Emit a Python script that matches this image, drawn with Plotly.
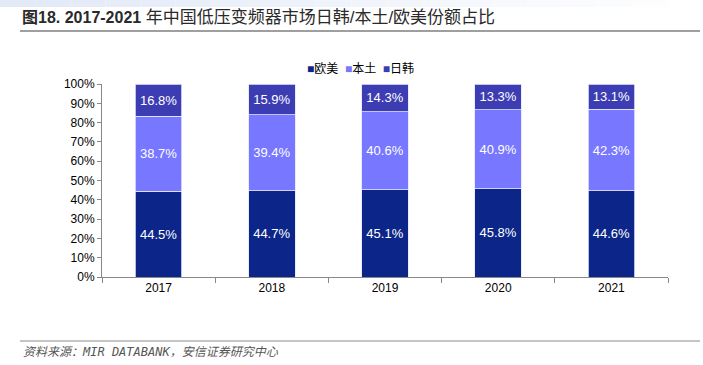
import plotly.graph_objects as go

years = ["2017", "2018", "2019", "2020", "2021"]
oumei = [44.5, 44.7, 45.1, 45.8, 44.6]
bentu = [38.7, 39.4, 40.6, 40.9, 42.3]
rihan = [16.8, 15.9, 14.3, 13.3, 13.1]
ytick_vals = [0, 10, 20, 30, 40, 50, 60, 70, 80, 90, 100]
ytick_text = [f"{v}%" for v in ytick_vals]

FONT = "Liberation Sans, Arial, Noto Sans CJK SC, sans-serif"
series = [("欧美", oumei, "#0C2588"), ("本土", bentu, "#7777FF"), ("日韩", rihan, "#3D3DB3")]

fig = go.Figure()
for name, vals, color in series:
    fig.add_trace(go.Bar(
        x=years, y=vals, name=name,
        marker=dict(color=color, line=dict(color="#E6E6FF", width=0.8)),
        texttemplate="%{y:.1f}%", textposition="inside", insidetextanchor="middle",
        textfont=dict(color="white", size=13, family=FONT),
        hoverinfo="skip", showlegend=False,
    ))

fig.update_layout(
    barmode="stack", bargap=0.59,
    width=703, height=365,
    margin=dict(l=102, r=35, t=84, b=88, autoexpand=False),
    paper_bgcolor="white", plot_bgcolor="white",
    font=dict(family=FONT, size=12, color="#000000"),
    uniformtext=dict(minsize=13, mode="show"),
    showlegend=False,
    xaxis=dict(showline=True, linecolor="#888888", linewidth=1, ticks="outside",
               tickson="boundaries", ticklen=5, tickcolor="#888888",
               tickfont=dict(size=12), showgrid=False),
    yaxis=dict(range=[0, 100], tickvals=ytick_vals, ticktext=ytick_text,
               showline=True, linecolor="#888888", linewidth=1, ticks="outside",
               ticklen=4, tickcolor="#888888", showgrid=False, zeroline=False,
               tickfont=dict(size=12)),
)

def px_to_paper_y(py):
    return (365 - 88 - py) / 193

def px_to_paper_x(px):
    return (px - 102) / 566

# top gradient band
n = 20
for i in range(n):
    t = i / (n - 1)
    r = int(226 + (255 - 226) * t)
    g = int(234 + (255 - 234) * t)
    b = int(248 + (255 - 248) * t)
    fig.add_shape(type="rect", xref="paper", yref="paper",
                  x0=px_to_paper_x(i * 703 / n), x1=px_to_paper_x((i + 1) * 703 / n),
                  y0=px_to_paper_y(7), y1=px_to_paper_y(0),
                  fillcolor=f"rgb({r},{g},{b})", line=dict(width=0), layer="below")

# title underline
fig.add_shape(type="line", xref="paper", yref="paper",
              x0=px_to_paper_x(20), x1=px_to_paper_x(700),
              y0=px_to_paper_y(31), y1=px_to_paper_y(31),
              line=dict(color="#7F7F7F", width=1.5))
# source line
fig.add_shape(type="line", xref="paper", yref="paper",
              x0=px_to_paper_x(20), x1=px_to_paper_x(700),
              y0=px_to_paper_y(341), y1=px_to_paper_y(341),
              line=dict(color="#8C8C8C", width=1.2))

fig.add_annotation(text="<b>图18. 2017-2021</b> <span style='font-size:17px'>年中国低压变频器市场日韩/本土/欧美份额占比</span>",
                   xref="paper", yref="paper", x=px_to_paper_x(20), y=px_to_paper_y(18),
                   xanchor="left", yanchor="middle", showarrow=False,
                   font=dict(size=16, color="#2A2A2A", family="Liberation Sans, Noto Sans CJK SC"))
fig.add_annotation(text="<i>资料来源：MIR DATABANK，安信证券研究中心</i>",
                   xref="paper", yref="paper", x=px_to_paper_x(21), y=px_to_paper_y(352),
                   xanchor="left", yanchor="middle", showarrow=False,
                   font=dict(size=12, color="#555555", family="DejaVu Sans Mono, Noto Sans CJK SC"))

# legend (compact, as in the reference)
legend_text = "  ".join(
    f"<span style='color:{c}'>■</span>{n}" for n, _, c in series
)
fig.add_annotation(text=legend_text, xref="paper", yref="paper",
                   x=px_to_paper_x(360), y=px_to_paper_y(69),
                   xanchor="center", yanchor="middle", showarrow=False,
                   font=dict(size=12, color="#000000", family=FONT))

fig.write_html("out.html", config={"displayModeBar": False},
               post_script="document.body.style.margin='0';document.body.style.padding='0';")
